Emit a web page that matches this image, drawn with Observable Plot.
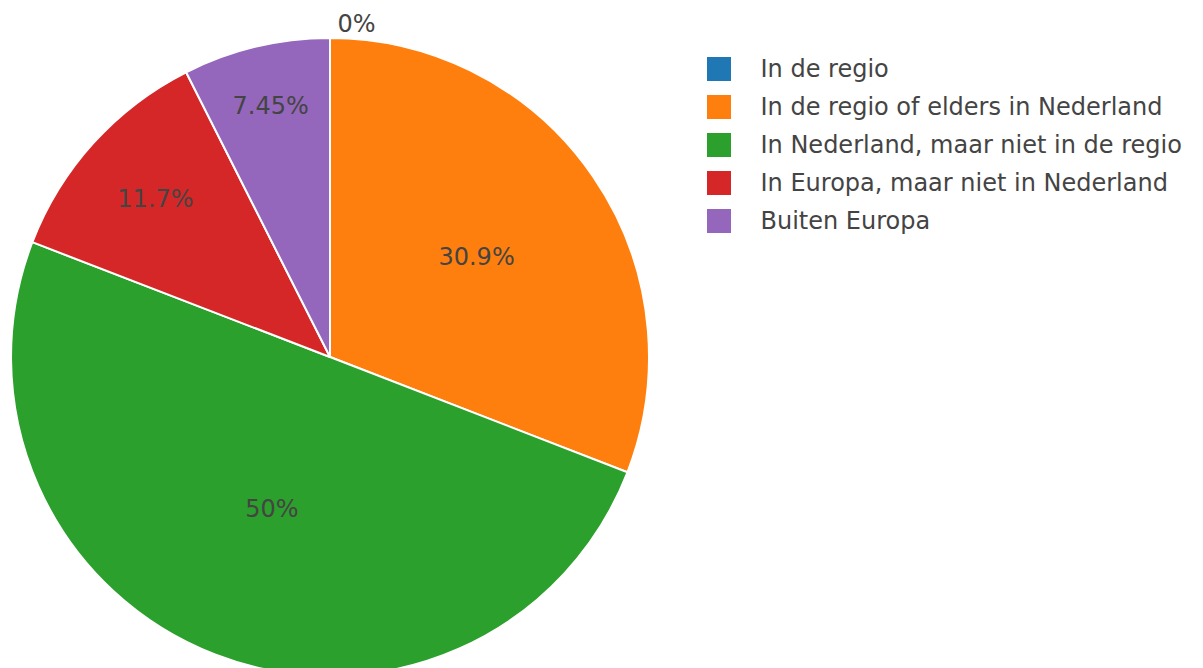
<!DOCTYPE html>
<html>
<head>
<meta charset="utf-8">
<script src="https://cdn.jsdelivr.net/npm/d3@7"></script>
<script src="https://cdn.jsdelivr.net/npm/@observablehq/plot@0.6"></script>
<style>
  html, body { margin: 0; padding: 0; background: #fff; }
  #chart svg { display: block; }
</style>
</head>
<body>
<div id="chart"></div>
<script>
const categories = [
  "In de regio",
  "In de regio of elders in Nederland",
  "In Nederland, maar niet in de regio",
  "In Europa, maar niet in Nederland",
  "Buiten Europa"
];
const values = [0, 30.9, 50, 11.7, 7.45];
const labels = ["0%", "30.9%", "50%", "11.7%", "7.45%"];
const colors = ["#1f77b4", "#ff7f0e", "#2ca02c", "#d62728", "#9467bd"];

const W = 1203, H = 668;
const cx = 330, cy = 357, R = 319;
const font = "DejaVu Sans, Verdana, sans-serif";

const data = categories.map((c, i) => ({category: c, value: values[i], label: labels[i], color: colors[i], i}));
const total = d3.sum(values);
const arcs = d3.pie().sort(null).value(d => d.value)(data);

// label placement rule (plotly-like: narrow slices push labels outward)
function labelRadius(frac) {
  if (frac >= 0.4) return 0.51 * R;
  if (frac >= 0.25) return 0.555 * R;
  if (frac >= 0.1) return 0.74 * R;
  return 0.81 * R;
}
const labelData = arcs.map(a => {
  const frac = a.data.value / total;
  const mid = (a.startAngle + a.endAngle) / 2;
  if (frac === 0) {
    return {label: a.data.label, x: cx + 7 + (R + 14) * Math.sin(mid), y: cy - (R + 14) * Math.cos(mid), outside: true};
  }
  const r = labelRadius(frac);
  return {label: a.data.label, x: cx + r * Math.sin(mid), y: cy - r * Math.cos(mid), outside: false};
});

const pieMark = (index, scales) => {
  const g = d3.create("svg:g");
  const arcGen = d3.arc().innerRadius(0).outerRadius(R);
  const X = scales.x, Y = scales.y;
  g.attr("transform", `translate(${X(cx)},${Y(cy)})`);
  g.selectAll("path")
    .data(arcs)
    .join("path")
    .attr("d", arcGen)
    .attr("fill", d => d.data.color)
    .attr("stroke", "#fff")
    .attr("stroke-width", 2)
    .attr("stroke-linejoin", "round");
  return g.node();
};

const legendX = 707, legendY0 = 57, legendStep = 38, sq = 24;

const chart = Plot.plot({
  width: W,
  height: H,
  margin: 0,
  x: {domain: [0, W], range: [0, W], axis: null},
  y: {domain: [0, H], range: [0, H], axis: null},
  style: {fontFamily: font, background: "#fff"},
  marks: [
    pieMark,
    Plot.text(labelData.filter(d => !d.outside), {
      x: "x", y: "y", text: "label",
      fill: "#444", fontSize: 24, fontFamily: font, textAnchor: "middle"
    }),
    Plot.text(labelData.filter(d => d.outside), {
      x: "x", y: "y", text: "label",
      fill: "#444", fontSize: 24, fontFamily: font, textAnchor: "start"
    }),
    Plot.rect(data, {
      x1: legendX, x2: legendX + sq,
      y1: d => legendY0 + d.i * legendStep,
      y2: d => legendY0 + d.i * legendStep + sq,
      fill: d => d.color
    }),
    Plot.text(data, {
      x: 760,
      y: d => legendY0 + d.i * legendStep + sq / 2,
      text: "category",
      fill: "#444", fontSize: 24, fontFamily: font, textAnchor: "start"
    })
  ]
});
document.getElementById("chart").appendChild(chart);
</script>
</body>
</html>
